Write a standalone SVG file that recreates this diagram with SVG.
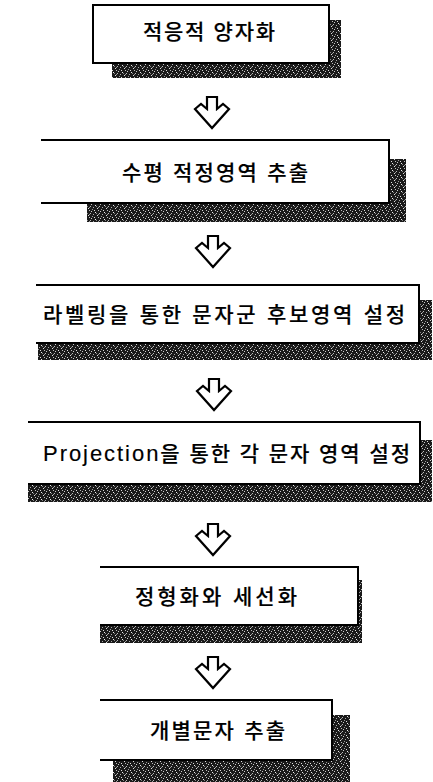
<svg xmlns="http://www.w3.org/2000/svg" width="433" height="782" viewBox="0 0 433 782">
<defs>
<pattern id="speck" x="0" y="0" width="9" height="7" patternUnits="userSpaceOnUse">
<rect width="9" height="7" fill="#1a1a1a"/>
<rect x="1" y="1" width="1" height="1" fill="#ccc"/>
<rect x="5" y="2" width="1" height="1" fill="#eee"/>
<rect x="3" y="4" width="1" height="1" fill="#aaa"/>
<rect x="7" y="5" width="1" height="1" fill="#ddd"/>
<rect x="2" y="6" width="1" height="1" fill="#999"/>
<rect x="8" y="0" width="1" height="1" fill="#bbb"/>
<rect x="6" y="3" width="1" height="1" fill="#888"/>
<rect x="4" y="0" width="1" height="1" fill="#ddd"/>
<rect x="0" y="3" width="1" height="1" fill="#bbb"/>
<rect x="8" y="4" width="1" height="1" fill="#999"/>
</pattern>
<path id="arr" d="M-5,0 H5 V12 L11,7 L17,12 L0,31 L-17,12 L-11,7 L-5,12 Z"/>
</defs>
<style>
.sh{fill:url(#speck);}
.bx{fill:#fff;stroke:none;}
.ln{fill:none;stroke:#000;stroke-width:2;}
.t{font-family:"Liberation Sans","Noto Sans CJK KR",sans-serif;font-size:21px;font-weight:500;fill:#000;stroke:#000;stroke-width:0.15;text-anchor:start;dominant-baseline:central;}
.ar{fill:#fff;stroke:#000;stroke-width:2.2;stroke-linejoin:miter;}
</style>

<g id="connectors">
<use href="#arr" class="ar" x="212" y="97"/>
<use href="#arr" class="ar" x="213" y="236"/>
<use href="#arr" class="ar" x="214" y="379"/>
<use href="#arr" class="ar" x="213" y="524"/>
<use href="#arr" class="ar" x="213" y="657"/>
</g>

<g id="n1">
<rect class="sh" x="112" y="20" width="229" height="58"/>
<rect class="bx" x="93" y="5" width="236" height="58"/>
<rect class="ln" x="93" y="5" width="236" height="58"/>
<text class="t" x="143" y="31" textLength="132" lengthAdjust="spacing">적응적 양자화</text>
</g>

<g id="n2">
<rect class="sh" x="87" y="159" width="319" height="63"/>
<rect class="bx" x="41" y="140" width="348" height="63"/>
<path class="ln" d="M41,140 H389 V203 H41"/>
<text class="t" x="122" y="172" textLength="186" lengthAdjust="spacing">수평 적정영역 추출</text>
</g>

<g id="n3">
<rect class="sh" x="38" y="300" width="394" height="60"/>
<rect class="bx" x="36" y="285" width="383" height="58"/>
<path class="ln" d="M36,285 H419 V343 H36"/>
<text class="t" x="43" y="314" textLength="362" lengthAdjust="spacing">라벨링을 통한 문자군 후보영역 설정</text>
</g>

<g id="n4">
<rect class="sh" x="28" y="440" width="404" height="62"/>
<rect class="bx" x="28" y="422" width="392" height="62"/>
<path class="ln" d="M28,422 H420 V484 H28"/>
<text class="t" x="43" y="453" textLength="367" lengthAdjust="spacing"><tspan font-size="22">Projection</tspan>을 통한 각 문자 영역 설정</text>
</g>

<g id="n5">
<rect class="sh" x="100" y="580" width="262" height="63"/>
<rect class="bx" x="100" y="567" width="258" height="58"/>
<path class="ln" d="M100,567 H358 V625 H100"/>
<text class="t" x="135" y="596" textLength="162" lengthAdjust="spacing">정형화와 세선화</text>
</g>

<g id="n6">
<rect class="sh" x="113" y="715" width="237" height="67"/>
<rect class="bx" x="100" y="700" width="232" height="60"/>
<path class="ln" d="M100,700 H332 V760 H100"/>
<text class="t" x="150" y="730" textLength="135" lengthAdjust="spacing">개별문자 추출</text>
</g>
</svg>
